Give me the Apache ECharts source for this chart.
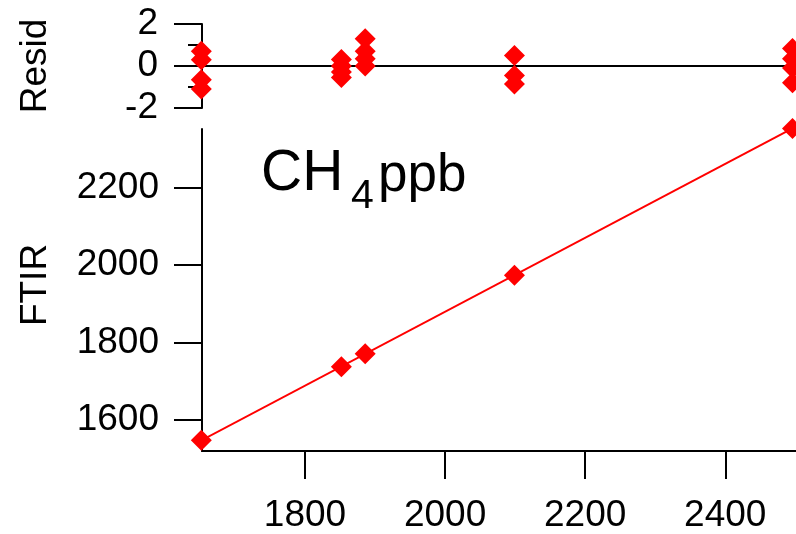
<!DOCTYPE html>
<html>
<head>
<meta charset="utf-8">
<script src="https://cdn.jsdelivr.net/npm/echarts@6/dist/echarts.min.js"></script>
<style>
  html, body { margin: 0; padding: 0; background: #fff; }
  #chart { width: 796px; height: 534px; }
</style>
</head>
<body>
<div id="chart"></div>
<script>
// Reference concentrations (x) and FTIR readings (y), CH4 in ppb
const refPpb = [1652, 1852, 1886, 2099, 2496];
const ftirPpb = [1547.5, 1738, 1771, 1974, 2353.4];

// Linear fit drawn across the data range
const fitX = [1652, 2496];
const fitY = [1547.4, 2353.4];

// Residuals of individual measurements from the fit
const residX = [
  1652, 1652, 1652, 1652,
  1852, 1852, 1852, 1852,
  1886, 1886, 1886, 1886,
  2099, 2099, 2099,
  2496, 2496, 2496, 2496
];
const residY = [
  0.7, 0.3, -0.65, -1.1,
  0.31, 0.0, -0.29, -0.55,
  1.3, 0.7, 0.35, 0.0,
  0.5, -0.45, -0.86,
  0.83, 0.35, -0.1, -0.8
];

// Tick labels
const xTicks = [1800, 2000, 2200, 2400];
const yTicks = [1600, 1800, 2000, 2200];

const FONT = '"Liberation Sans", Arial, Helvetica, sans-serif';
const RED = '#ff0000';
const BLACK = '#000000';

const zip = (a, b) => a.map((v, i) => [v, b[i]]);
const plain = (v) => String(v);

const chart = echarts.init(document.getElementById('chart'), null, { renderer: 'canvas' });

const axisLine = { show: true, onZero: false, lineStyle: { color: BLACK, width: 2 } };

chart.setOption({
  animation: false,
  backgroundColor: '#ffffff',
  grid: [
    { left: 202, top: 24, right: 0, height: 84, containLabel: false },
    { left: 202, top: 129, right: 0, height: 324, containLabel: false }
  ],
  xAxis: [
    {
      gridIndex: 0, type: 'value', min: 1653, max: 2501,
      axisLine: { show: true, onZero: true, lineStyle: { color: BLACK, width: 2 } },
      axisTick: { show: false }, axisLabel: { show: false }, splitLine: { show: false }
    },
    {
      gridIndex: 1, type: 'value', min: 1653, max: 2501,
      axisLine: axisLine,
      axisTick: { show: true, length: 28, lineStyle: { color: BLACK, width: 2 }, customValues: xTicks },
      axisLabel: { show: true, customValues: xTicks, formatter: plain, fontSize: 37, fontFamily: FONT, color: BLACK, margin: 46 },
      splitLine: { show: false }
    }
  ],
  yAxis: [
    {
      gridIndex: 0, type: 'value', min: -2, max: 2, interval: 2,
      axisLine: axisLine,
      axisTick: { show: true, length: 28, lineStyle: { color: BLACK, width: 2 } },
      minorTick: { show: true, splitNumber: 2, length: 14, lineStyle: { color: BLACK, width: 2 } },
      axisLabel: { show: true, formatter: plain, fontSize: 37, fontFamily: FONT, color: BLACK, margin: 44 },
      splitLine: { show: false }
    },
    {
      gridIndex: 1, type: 'value', min: 1520, max: 2352,
      axisLine: axisLine,
      axisTick: { show: true, length: 28, lineStyle: { color: BLACK, width: 2 }, customValues: yTicks },
      axisLabel: { show: true, customValues: yTicks, formatter: plain, fontSize: 37, fontFamily: FONT, color: BLACK, margin: 43 },
      splitLine: { show: false }
    }
  ],
  graphic: [
    {
      type: 'text', x: 36, y: 66, rotation: Math.PI / 2,
      style: { text: 'Resid', font: '37px ' + FONT, fill: BLACK, textAlign: 'center', textVerticalAlign: 'middle' }
    },
    {
      type: 'text', x: 36, y: 285, rotation: Math.PI / 2,
      style: { text: 'FTIR', font: '37px ' + FONT, fill: BLACK, textAlign: 'center', textVerticalAlign: 'middle' }
    },
    {
      type: 'text', x: 261, y: 174,
      style: { text: 'CH', font: '57px ' + FONT, fill: BLACK, textAlign: 'left', textVerticalAlign: 'middle' }
    },
    {
      type: 'text', x: 351, y: 197,
      style: { text: '4', font: '41px ' + FONT, fill: BLACK, textAlign: 'left', textVerticalAlign: 'middle' }
    },
    {
      type: 'text', x: 378, y: 176,
      style: { text: 'ppb', font: '53px ' + FONT, fill: BLACK, textAlign: 'left', textVerticalAlign: 'middle' }
    }
  ],
  series: [
    {
      type: 'scatter', xAxisIndex: 0, yAxisIndex: 0,
      data: zip(residX, residY),
      symbol: 'diamond', symbolSize: 21, clip: false,
      itemStyle: { color: RED, opacity: 1 }, z: 5
    },
    {
      type: 'line', xAxisIndex: 1, yAxisIndex: 1,
      data: zip(fitX, fitY),
      showSymbol: false, symbol: 'none', clip: false,
      lineStyle: { color: RED, width: 2 }, z: 3
    },
    {
      type: 'scatter', xAxisIndex: 1, yAxisIndex: 1,
      data: zip(refPpb, ftirPpb),
      symbol: 'diamond', symbolSize: 21, clip: false,
      itemStyle: { color: RED, opacity: 1 }, z: 5
    }
  ]
});
</script>
</body>
</html>
